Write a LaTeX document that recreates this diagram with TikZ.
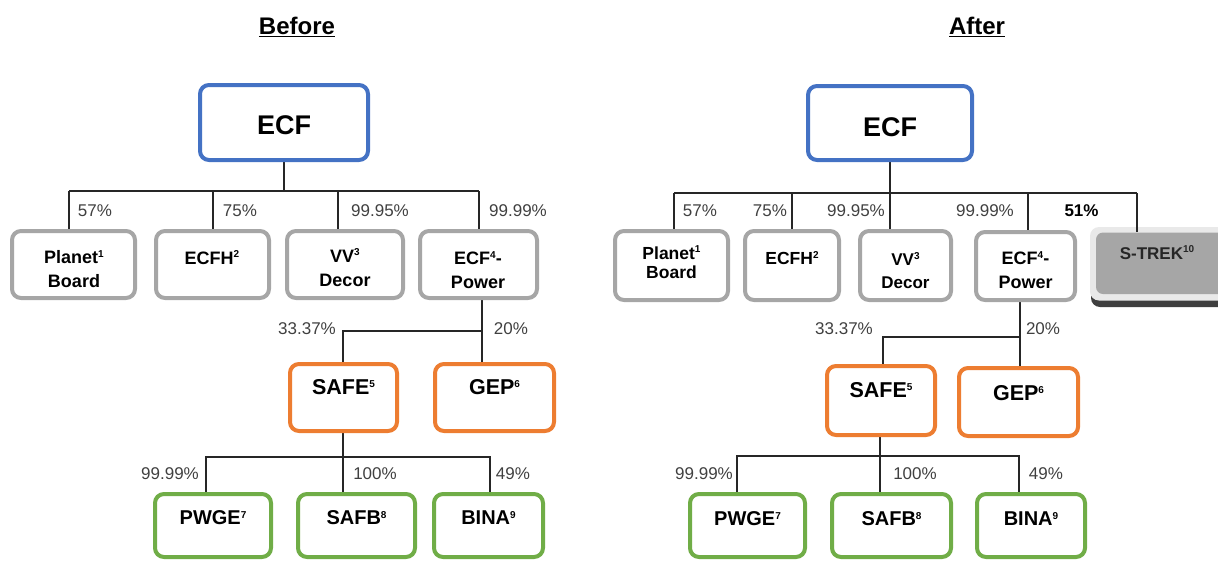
\documentclass[tikz,border=0pt]{standalone}
\usepackage{fontspec}
\setmainfont{Liberation Sans}
\usetikzlibrary{backgrounds}
\definecolor{cblue}{HTML}{4472C4}
\definecolor{corange}{HTML}{ED7D31}
\definecolor{cgreen}{HTML}{70AD47}
\definecolor{cgray}{HTML}{A6A6A6}
\definecolor{clight}{HTML}{E9E9E9}
\definecolor{cshadow}{HTML}{3F3F3F}
\definecolor{linec}{HTML}{262626}
\definecolor{pctc}{HTML}{404040}
\newcommand\supn[1]{\raisebox{6.5pt}{\fontsize{10}{10}\selectfont #1}}
\begin{document}
\begin{tikzpicture}[x=1pt,y=-1pt,
  box/.style={draw, line width=4pt, rounded corners=9pt, fill=white, inner sep=0pt},
  bluebox/.style={box, draw=cblue},
  graybox/.style={box, draw=cgray},
  orangebox/.style={box, draw=corange},
  greenbox/.style={box, draw=cgreen},
  lbl/.style={font=\fontsize{18}{24}\selectfont\bfseries, align=center, inner sep=0pt, text=black},
  olbl/.style={lbl, font=\fontsize{21.5}{24}\selectfont\bfseries},
  glbl/.style={lbl, font=\fontsize{20}{24}\selectfont\bfseries},
  biglbl/.style={font=\fontsize{27}{30}\selectfont\bfseries, inner sep=0pt},
  ttl/.style={font=\fontsize{24}{26}\selectfont\bfseries, inner sep=0pt},
  pct/.style={font=\fontsize{17}{17}\selectfont, text=pctc, inner sep=0pt},
  conn/.style={line width=1.5pt, draw=linec}]
\useasboundingbox (0,0) rectangle (1218,560);

% ---------------- Titles
\node[ttl] (tBefore) at (297,27) {\underline{Before}};
\node[ttl] (tAfter) at (977,27) {\underline{After}};

% ================= LEFT (Before)
\node[bluebox, minimum width=168pt, minimum height=75pt] (Lecf) at (284,122.5) {};
\node[biglbl] (LecfT) at (284,125) {ECF};

\node[graybox, minimum width=123pt, minimum height=67pt] (Lpb) at (73.5,264.5) {};
\node[graybox, minimum width=113pt, minimum height=67pt] (Lecfh) at (212.5,264.5) {};
\node[graybox, minimum width=116pt, minimum height=67pt] (Lvv) at (345,264.5) {};
\node[graybox, minimum width=117pt, minimum height=67pt] (Lpow) at (478.5,264.5) {};
\node[lbl] (LpbT) at (74,269) {Planet\supn{1}\\Board};
\node[lbl] (LecfhT) at (212,257.5) {ECFH\supn{2}};
\node[lbl] (LvvT) at (345,267.5) {VV\supn{3}\\Decor};
\node[lbl] (LpowT) at (478,270) {ECF\supn{4}-\\Power};

\node[orangebox, minimum width=107pt, minimum height=67pt] (Lsafe) at (343.5,397.5) {};
\node[orangebox, minimum width=119pt, minimum height=67pt] (Lgep) at (494.5,397.5) {};
\node[olbl] (LsafeT) at (343.5,387) {SAFE\supn{5}};
\node[olbl] (LgepT) at (494.5,387) {GEP\supn{6}};

\node[greenbox, minimum width=116pt, minimum height=63pt] (Lpwge) at (213,525.5) {};
\node[greenbox, minimum width=117pt, minimum height=63pt] (Lsafb) at (356.5,525.5) {};
\node[greenbox, minimum width=109pt, minimum height=63pt] (Lbina) at (488.5,525.5) {};
\node[glbl] (LpwgeT) at (213,518) {PWGE\supn{7}};
\node[glbl] (LsafbT) at (356.5,518) {SAFB\supn{8}};
\node[glbl] (LbinaT) at (488.5,518) {BINA\supn{9}};

\node[pct] (Lp1) at (95,211) {57\%};
\node[pct] (Lp2) at (240,211) {75\%};
\node[pct] (Lp3) at (380,211) {99.95\%};
\node[pct] (Lp4) at (518,211) {99.99\%};
\node[pct] (Lp5) at (307,329) {33.37\%};
\node[pct] (Lp6) at (511,329) {20\%};
\node[pct] (Lp7) at (170,474) {99.99\%};
\node[pct] (Lp8) at (375,474) {100\%};
\node[pct] (Lp9) at (513,474) {49\%};

\coordinate (La) at (69,191);
\coordinate (Lb) at (213,191);
\coordinate (Lc) at (338,191);
\coordinate (Ld) at (479,191);
\coordinate (Lm1) at (343,331);
\coordinate (Lm2) at (482,331);
\coordinate (Ln1) at (206,457);
\coordinate (Ln2) at (343,457);
\coordinate (Ln3) at (490,457);

% ================= RIGHT (After)
\node[bluebox, minimum width=164pt, minimum height=74pt] (Recf) at (890,123) {};
\node[biglbl] (RecfT) at (890,127) {ECF};

\node[graybox, minimum width=113pt, minimum height=69pt] (Rpb) at (671.5,265.5) {};
\node[graybox, minimum width=94pt, minimum height=69pt] (Recfh) at (792,265.5) {};
\node[graybox, minimum width=91pt, minimum height=69pt] (Rvv) at (905.5,265.5) {};
\node[graybox, minimum width=99pt, minimum height=68pt] (Rpow) at (1025.5,266) {};
\node[lbl, font=\fontsize{17.5}{19.5}\selectfont\bfseries] (RpbT) at (671.5,262.5) {Planet\supn{1}\\Board};
\node[lbl, font=\fontsize{17.5}{19.5}\selectfont\bfseries] (RecfhT) at (792,258) {ECFH\supn{2}};
\node[lbl, font=\fontsize{17}{23}\selectfont\bfseries] (RvvT) at (905.5,270.5) {VV\supn{3}\\Decor};
\node[lbl] (RpowT) at (1025.5,270) {ECF\supn{4}-\\Power};

% S-TREK box with bevel and shadow
\fill[cshadow, rounded corners=9pt] (1091,245) rectangle (1250,307);
\fill[clight, rounded corners=9pt] (1090,227) rectangle (1250,300.5);
\node[fill=cgray, rounded corners=7pt, inner sep=0pt, minimum width=154pt, minimum height=61.5pt] (Rstrek) at (1173,263.25) {};
\node[font=\fontsize{17}{19}\selectfont\bfseries, inner sep=0pt, text=black!85] (RstrekT) at (1157,252.5) {S-TREK\supn{10}};

\node[orangebox, minimum width=108pt, minimum height=69pt] (Rsafe) at (881,400.5) {};
\node[orangebox, minimum width=119pt, minimum height=68pt] (Rgep) at (1018.5,402) {};
\node[olbl] (RsafeT) at (881,390) {SAFE\supn{5}};
\node[olbl] (RgepT) at (1018.5,393) {GEP\supn{6}};

\node[greenbox, minimum width=115pt, minimum height=63pt] (Rpwge) at (747.5,525.5) {};
\node[greenbox, minimum width=119pt, minimum height=63pt] (Rsafb) at (891.5,525.5) {};
\node[greenbox, minimum width=108pt, minimum height=63pt] (Rbina) at (1031,525.5) {};
\node[glbl] (RpwgeT) at (747.5,519) {PWGE\supn{7}};
\node[glbl] (RsafbT) at (891.5,519) {SAFB\supn{8}};
\node[glbl] (RbinaT) at (1031,519) {BINA\supn{9}};

\node[pct] (Rp1) at (700,211) {57\%};
\node[pct] (Rp2) at (770,211) {75\%};
\node[pct] (Rp3) at (856,211) {99.95\%};
\node[pct] (Rp4) at (985,211) {99.99\%};
\node[pct, font=\fontsize{17}{17}\selectfont\bfseries, text=black] (Rp5) at (1081.5,211) {51\%};
\node[pct] (Rp6) at (844,329) {33.37\%};
\node[pct] (Rp7) at (1043,329) {20\%};
\node[pct] (Rp8) at (704,474) {99.99\%};
\node[pct] (Rp9) at (915,474) {100\%};
\node[pct] (Rp10) at (1046,474) {49\%};

\coordinate (Ra) at (674,193);
\coordinate (Rb) at (792,193);
\coordinate (Rc) at (890,193);
\coordinate (Rd) at (1028,193);
\coordinate (Re) at (1137,193);
\coordinate (Rm1) at (883,337);
\coordinate (Rm2) at (1020,337);
\coordinate (Rn1) at (737,456);
\coordinate (Rn2) at (880,456);
\coordinate (Rn3) at (1019,456);

% ================= Connectors
\begin{scope}[on background layer]
  % left
  \draw[conn] (Lecf.south) -- (Lecf.south |- La);
  \draw[conn] (La) -- (Ld);
  \draw[conn] (La) -- (La |- Lpb.north);
  \draw[conn] (Lb) -- (Lb |- Lecfh.north);
  \draw[conn] (Lc) -- (Lc |- Lvv.north);
  \draw[conn] (Ld) -- (Ld |- Lpow.north);
  \draw[conn] (Lm2 |- Lpow.south) -- (Lm2 |- Lgep.north);
  \draw[conn] (Lm1 |- Lsafe.north) -- (Lm1) -- (Lm2);
  \draw[conn] (Ln2 |- Lsafe.south) -- (Ln2 |- Lsafb.north);
  \draw[conn] (Ln1 |- Lpwge.north) -- (Ln1) -- (Ln3) -- (Ln3 |- Lbina.north);
  % right
  \draw[conn] (Recf.south) -- (Rc |- Rvv.north);
  \draw[conn] (Ra) -- (Re);
  \draw[conn] (Ra) -- (Ra |- Rpb.north);
  \draw[conn] (Rb) -- (Rb |- Recfh.north);
  \draw[conn] (Rd) -- (Rd |- Rpow.north);
  \draw[conn] (Rm2 |- Rpow.south) -- (Rm2 |- Rgep.north);
  \draw[conn] (Rm1 |- Rsafe.north) -- (Rm1) -- (Rm2);
  \draw[conn] (Rn2 |- Rsafe.south) -- (Rn2 |- Rsafb.north);
  \draw[conn] (Rn1 |- Rpwge.north) -- (Rn1) -- (Rn3) -- (Rn3 |- Rbina.north);
\end{scope}
\draw[conn] (Re) -- (Re |- Rstrek.north);
\end{tikzpicture}
\end{document}
